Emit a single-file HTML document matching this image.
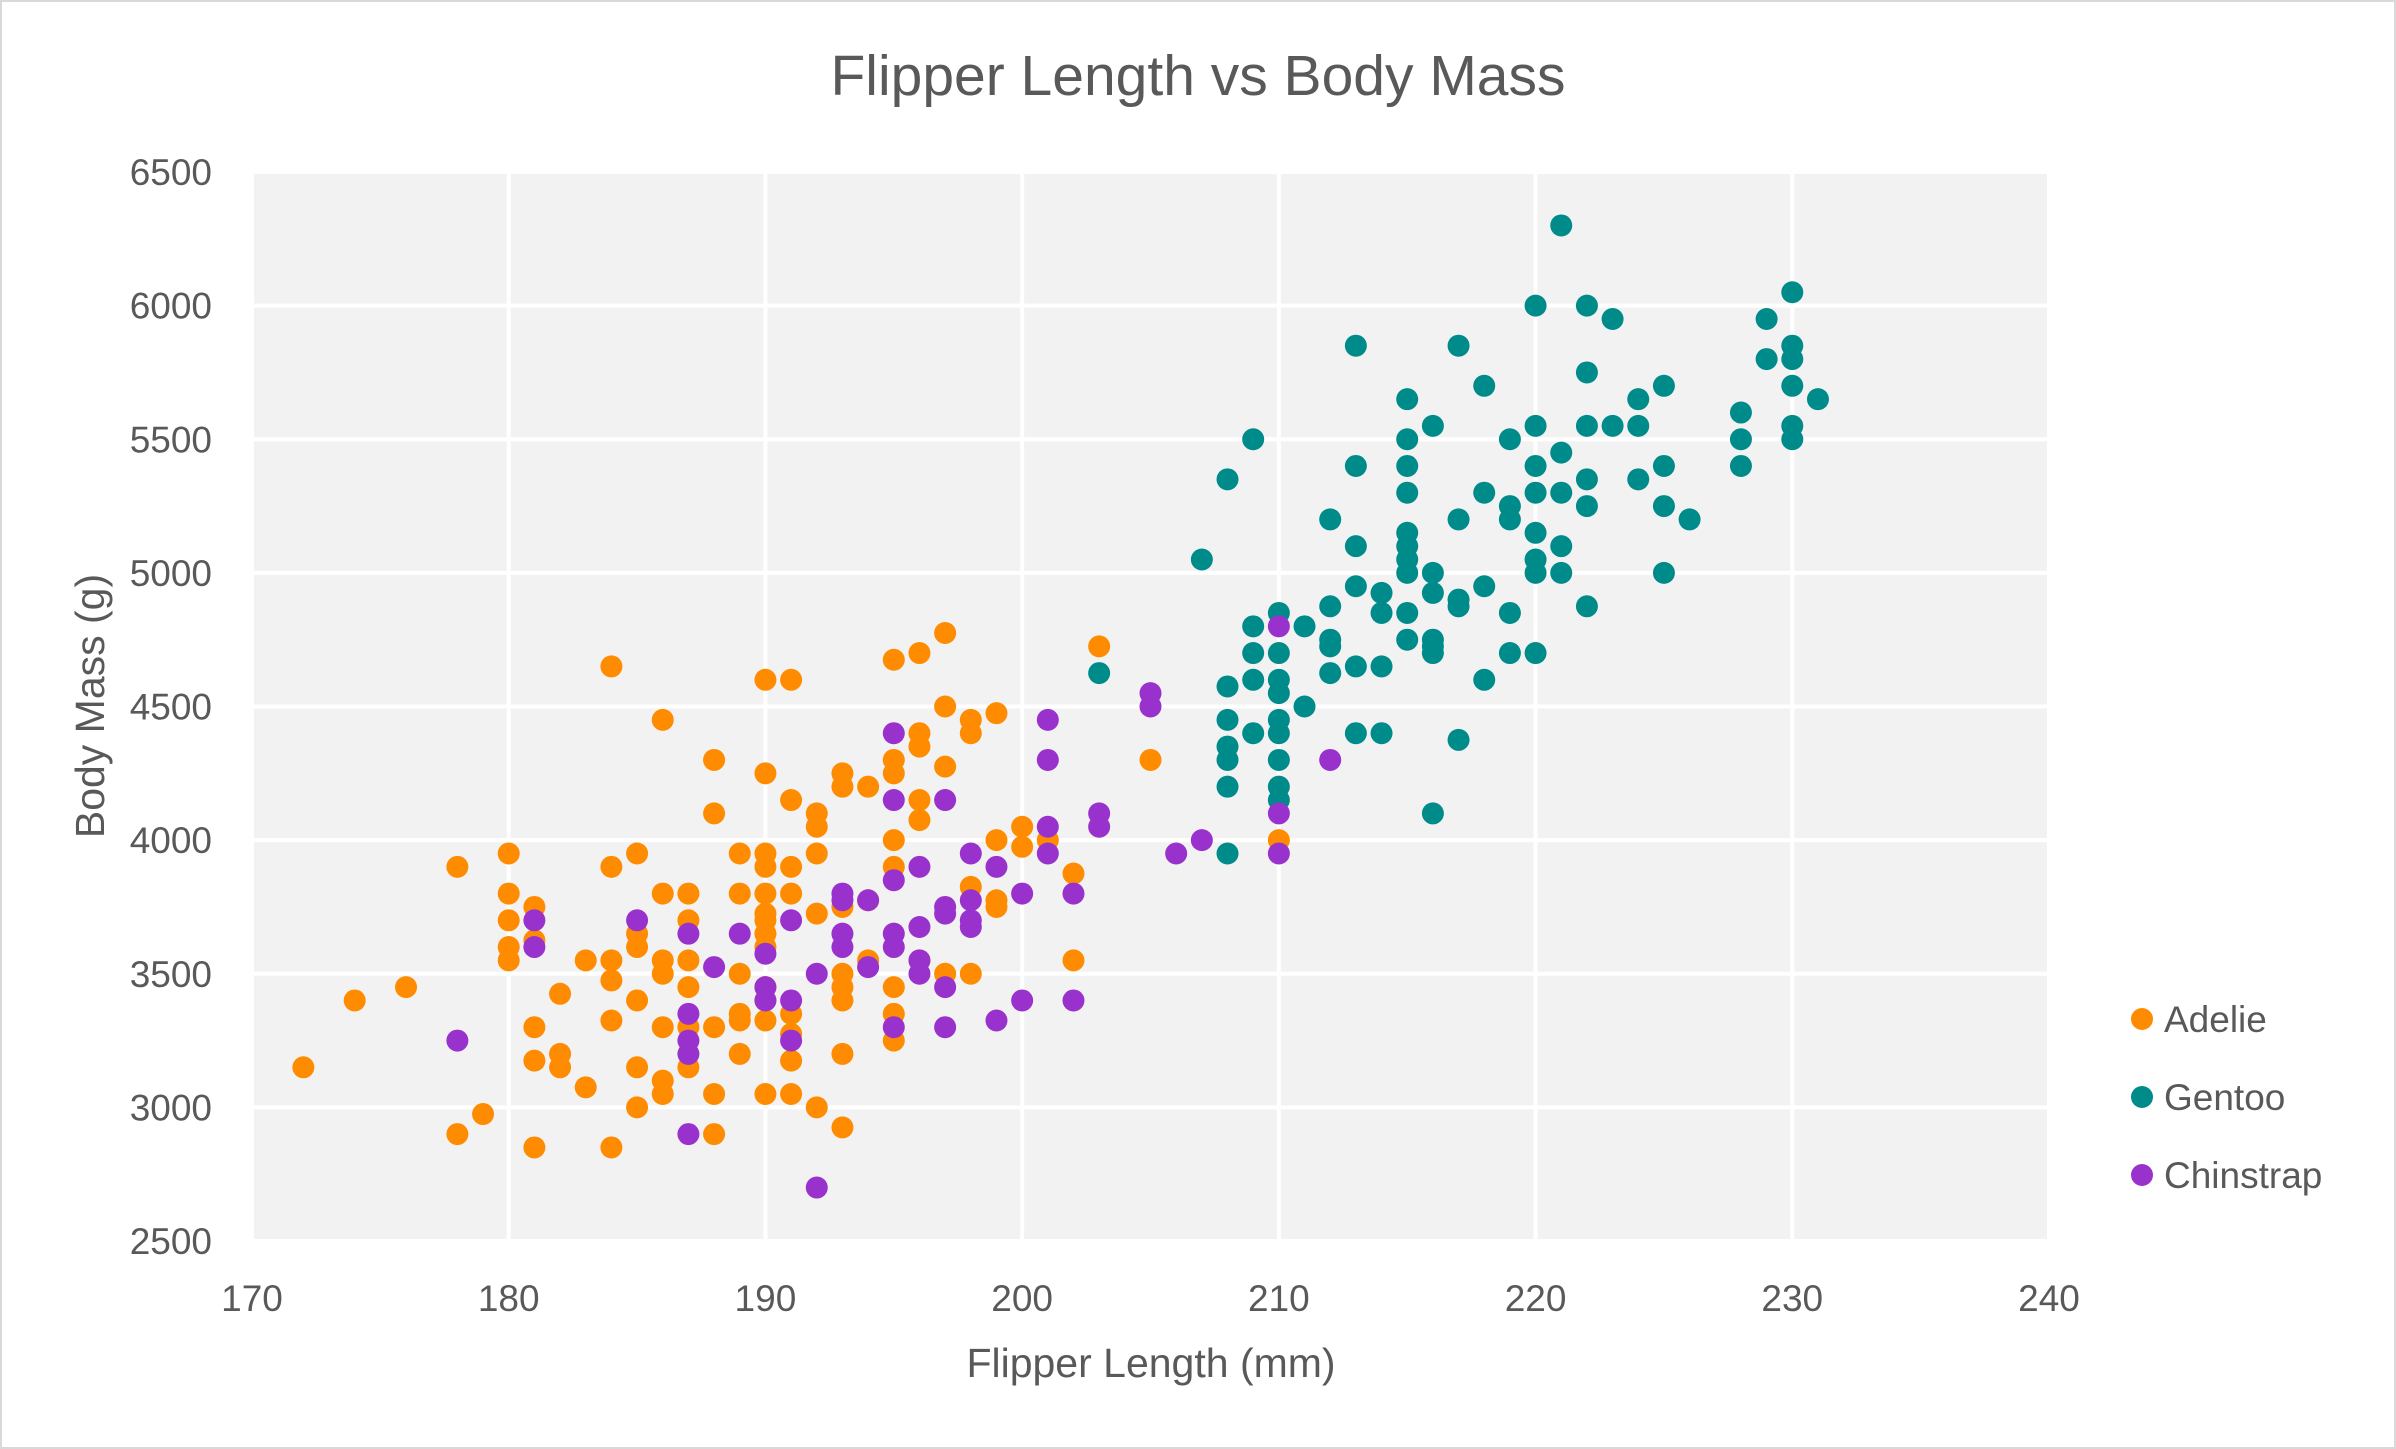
<!DOCTYPE html>
<html><head><meta charset="utf-8"><style>
html,body{margin:0;padding:0;background:#fff;}
svg{display:block;font-family:"Liberation Sans",sans-serif;}
</style></head><body>
<svg id="chart" width="2396" height="1449" viewBox="0 0 2396 1449" xmlns="http://www.w3.org/2000/svg">
<rect x="1" y="1" width="2394" height="1447" fill="#fff" stroke="#d9d9d9" stroke-width="2"/>
<rect x="252" y="172" width="1797" height="1069" fill="#f2f2f2"/>
<g id="grid"></g>
<g id="ticks" fill="#595959" font-size="37"></g>
<g id="points"></g>
<text x="1198" y="95" text-anchor="middle" font-size="57" fill="#595959">Flipper Length vs Body Mass</text>
<text x="1151" y="1377" text-anchor="middle" font-size="41" fill="#595959">Flipper Length (mm)</text>
<text transform="translate(104,706) rotate(-90)" text-anchor="middle" font-size="41" fill="#595959">Body Mass (g)</text>
<g id="legend" font-size="37" fill="#595959"></g>
</svg>
<script>
const xTicks=[170,180,190,200,210,220,230,240];
const yTicks=[2500,3000,3500,4000,4500,5000,5500,6000,6500];
const seriesNames=["Adelie","Gentoo","Chinstrap"];
const seriesColors=["#FF8C00","#008B8B","#9932CC"];
const adelieX=[172,174,176,178,178,179,180,180,180,180,180,181,181,181,181,181,182,182,182,183,183,184,184,184,184,184,184,185,185,185,185,185,185,186,186,186,186,186,186,186,187,187,187,187,187,187,188,188,188,188,188,189,189,189,189,189,189,190,190,190,190,190,190,190,190,190,190,190,190,190,191,191,191,191,191,191,191,191,192,192,192,192,192,193,193,193,193,193,193,193,193,194,194,194,195,195,195,195,195,195,195,195,196,196,196,196,196,196,197,197,197,197,198,198,198,198,199,199,199,199,200,200,201,202,202,203,205,210];
const adelieY=[3150,3400,3450,3900,2900,2975,3950,3800,3700,3600,3550,3750,3625,3300,3175,2850,3425,3200,3150,3550,3075,4650,3900,3550,3475,3325,2850,3950,3650,3600,3400,3150,3000,4450,3800,3550,3500,3300,3100,3050,3800,3700,3550,3450,3300,3150,4300,4100,3300,3050,2900,3950,3800,3500,3350,3325,3200,4600,4250,3950,3900,3800,3725,3700,3650,3600,3450,3400,3325,3050,4600,4150,3900,3800,3350,3275,3175,3050,4100,4050,3950,3725,3000,4250,4200,3750,3500,3450,3400,3200,2925,4200,3775,3550,4675,4300,4250,4000,3900,3450,3350,3250,4700,4400,4350,4150,4075,3550,4775,4500,4275,3500,4450,4400,3825,3500,4475,4000,3775,3750,4050,3975,4000,3875,3550,4725,4300,4000];
const gentooX=[203,207,208,208,208,208,208,208,208,209,209,209,209,209,210,210,210,210,210,210,210,210,210,211,211,212,212,212,212,212,213,213,213,213,213,213,214,214,214,214,215,215,215,215,215,215,215,215,215,215,216,216,216,216,216,216,216,217,217,217,217,217,218,218,218,218,219,219,219,219,219,220,220,220,220,220,220,220,220,221,221,221,221,221,222,222,222,222,222,222,223,223,224,224,224,225,225,225,225,226,228,228,228,229,229,230,230,230,230,230,230,231];
const gentooY=[4625,5050,5350,4575,4450,4350,4300,4200,3950,5500,4800,4700,4600,4400,4850,4700,4600,4550,4450,4400,4300,4200,4150,4800,4500,5200,4875,4750,4725,4625,5850,5400,5100,4950,4650,4400,4925,4850,4650,4400,5650,5500,5400,5300,5150,5100,5050,5000,4850,4750,5550,5000,4925,4750,4725,4700,4100,5850,5200,4900,4875,4375,5700,5300,4950,4600,5500,5250,5200,4850,4700,6000,5550,5400,5300,5150,5050,5000,4700,6300,5450,5300,5100,5000,6000,5750,5550,5350,5250,4875,5950,5550,5650,5550,5350,5700,5400,5250,5000,5200,5600,5500,5400,5950,5800,6050,5850,5800,5700,5550,5500,5650];
const chinX=[178,181,181,185,187,187,187,187,187,188,189,190,190,190,191,191,191,192,192,193,193,193,193,194,194,195,195,195,195,195,195,196,196,196,196,197,197,197,197,197,198,198,198,198,199,199,200,200,201,201,201,201,202,202,203,203,205,205,206,207,210,210,210,212];
const chinY=[3250,3700,3600,3700,3650,3350,3250,3200,2900,3525,3650,3575,3450,3400,3700,3400,3250,3500,2700,3800,3775,3650,3600,3775,3525,4400,4150,3850,3650,3600,3300,3900,3675,3550,3500,4150,3750,3725,3450,3300,3950,3775,3700,3675,3900,3325,3800,3400,4450,4300,4050,3950,3800,3400,4100,4050,4550,4500,3950,4000,4800,4100,3950,4300];

const NS="http://www.w3.org/2000/svg";
const X0=252,X1=2049,Y0=1241,Y1=172;
function xs(v){return X0+(v-170)/(240-170)*(X1-X0);}
function ys(v){return Y0-(v-2500)/(6500-2500)*(Y0-Y1);}
function mk(tag,attrs,parent){const e=document.createElementNS(NS,tag);for(const k in attrs)e.setAttribute(k,attrs[k]);parent.appendChild(e);return e;}
const grid=document.getElementById('grid'),ticks=document.getElementById('ticks'),pts=document.getElementById('points'),leg=document.getElementById('legend');
yTicks.forEach(t=>{
  const l=mk('line',{x1:X0,x2:X1,y1:ys(t),y2:ys(t),stroke:'#fff','stroke-width':4},grid);
  
  
  const tx=mk('text',{x:212,y:ys(t)+13,'text-anchor':'end'},ticks);
  tx.textContent=t;
  
  
});
xTicks.forEach(t=>{
  const l=mk('line',{x1:xs(t),x2:xs(t),y1:Y1,y2:Y0,stroke:'#fff','stroke-width':4},grid);
  
  
  const tx=mk('text',{x:xs(t),y:1311,'text-anchor':'middle'},ticks);
  tx.textContent=t;
  
  
});
const series=[[adelieX,adelieY],[gentooX,gentooY],[chinX,chinY]];
series.forEach((s,i)=>{
  s[0].forEach((xv,j)=>{
    const c=mk('circle',{cx:xs(xv),cy:ys(s[1][j]),r:11,fill:seriesColors[i]},pts);
    
    
  });
  const ly=1019+i*78;
  const lc=mk('circle',{cx:2142,cy:ly,r:11,fill:seriesColors[i]},leg);
  
  
  const lt=mk('text',{x:2164,y:ly+13},leg);
  lt.textContent=seriesNames[i];
  
  
});
</script>
</body></html>
